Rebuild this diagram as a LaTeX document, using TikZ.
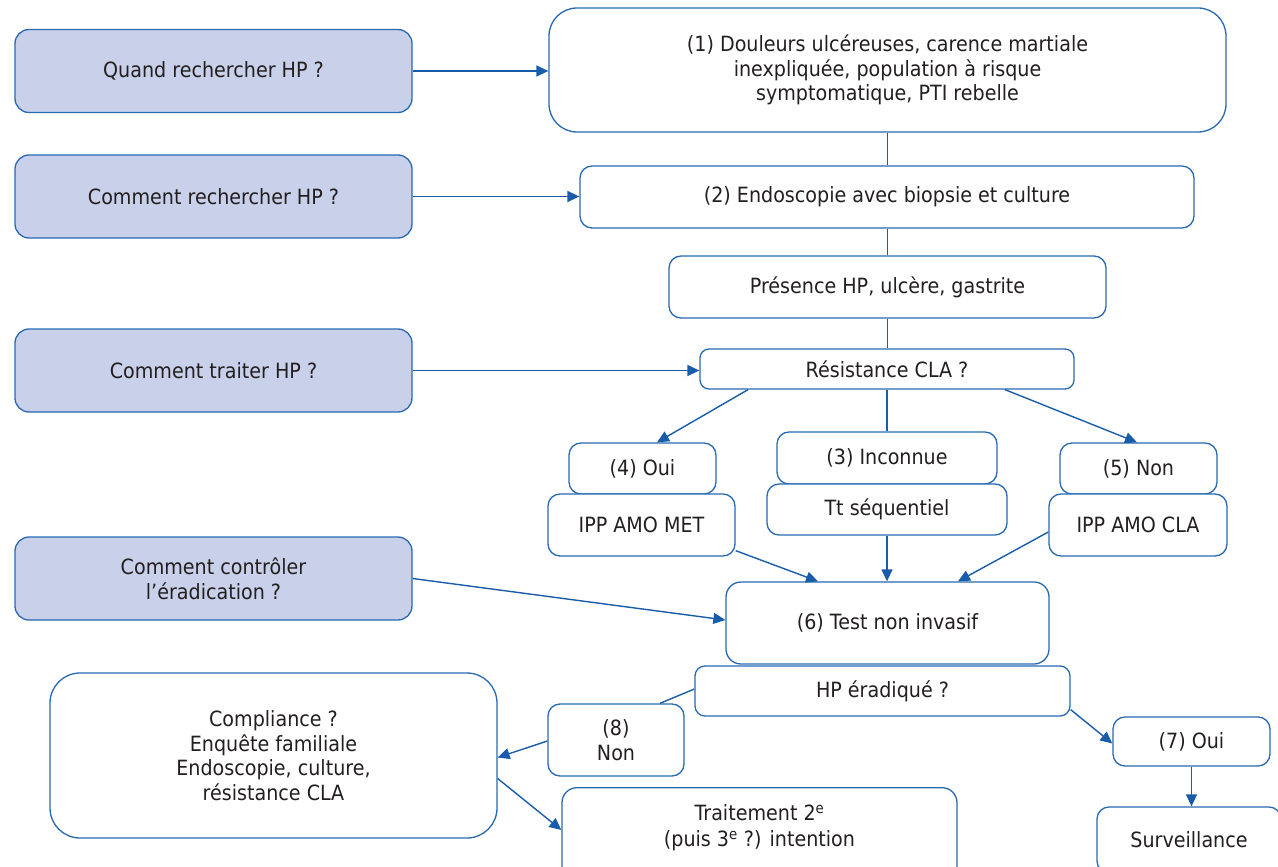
\documentclass[tikz,border=0pt]{standalone}
\usepackage{fontspec}
\setmainfont[FakeStretch=0.91]{DejaVu Sans}
\usetikzlibrary{arrows.meta,calc}
\definecolor{bl}{RGB}{40,105,178}
\definecolor{ar}{RGB}{25,92,170}
\definecolor{qfill}{RGB}{201,208,234}
\definecolor{tx}{RGB}{35,31,32}
\begin{document}
\begin{tikzpicture}[x=1pt,y=-1pt,
  box/.style={draw=bl, line width=1.3pt, rounded corners=12pt, fill=white, text=tx,
    align=center, inner sep=0pt, font=\fontsize{21}{24.5}\selectfont},
  qbox/.style={box, fill=qfill, rounded corners=14pt, minimum width=397pt, minimum height=83pt},
  conn/.style={draw=ar, line width=1.4pt},
  arr/.style={conn, -{Triangle[length=12pt,width=11pt]}}]
\useasboundingbox (0,0) rectangle (1278,867);
\clip (0,0) rectangle (1278,867);
% left question boxes
\node[qbox] (q1) at (213.5,71) {Quand rechercher HP ?};
\node[qbox] (q2) at (213.5,196.5) {Comment rechercher HP ?};
\node[qbox] (q3) at (213.5,370.5) {Comment traiter HP ?};
\node[qbox] (q4) at (213.5,578.5) {Comment contrôler\\l’éradication ?};
% main column
\node[box, rounded corners=28pt, minimum width=677pt, minimum height=124pt] (b1) at (887.5,70)
  {(1) Douleurs ulcéreuses, carence martiale\\inexpliquée, population à risque\\symptomatique, PTI rebelle};
\node[box, minimum width=614pt, minimum height=62pt] (b2) at (887,197) {(2) Endoscopie avec biopsie et culture};
\node[box, minimum width=437pt, minimum height=62pt] (b3) at (887.5,287) {Présence HP, ulcère, gastrite};
\node[box, minimum width=374pt, minimum height=40pt, rounded corners=9pt] (res) at (887,369) {Résistance CLA ?};
% branches
\node[box, minimum width=147pt, minimum height=51pt] (oui4) at (642.5,468.5) {(4) Oui};
\node[box, minimum width=187pt, minimum height=62pt] (met) at (641.5,525) {IPP AMO MET};
\node[box, minimum width=220pt, minimum height=52pt] (inc3) at (887,458) {(3) Inconnue};
\node[box, minimum width=240pt, minimum height=51pt] (seq) at (887,509.5) {Tt séquentiel};
\node[box, minimum width=157pt, minimum height=51pt] (non5) at (1138.5,468.5) {(5) Non};
\node[box, minimum width=178pt, minimum height=62pt] (cla) at (1138,525) {IPP AMO CLA};
% test
\node[box, minimum width=323pt, minimum height=82pt, rounded corners=15pt] (test) at (887.5,623) {(6) Test non invasif};
\node[box, minimum width=375pt, minimum height=50pt, rounded corners=10pt] (erad) at (882.5,691) {HP éradiqué ?};
\node[box, minimum width=136pt, minimum height=72pt] (non8) at (616,740) {(8)\\Non};
\node[box, minimum width=447pt, minimum height=165pt, rounded corners=30pt] (comp) at (273.5,755.5)
  {Compliance ?\\Enquête familiale\\Endoscopie, culture,\\résistance CLA};
\node[box, anchor=north, rounded corners=15pt] (trait) at (759.5,787)
  {\parbox[c][110pt][t]{395pt}{\centering\fontsize{21}{26}\selectfont\vspace*{17pt}Traitement 2\textsuperscript{e}\\(puis 3\textsuperscript{e} ?) intention}};
\node[box, minimum width=157pt, minimum height=49pt] (oui7) at (1191.5,741.5) {(7) Oui};
\node[box, minimum width=184pt, minimum height=66pt] (surv) at (1189,840) {Surveillance};
% connectors from questions
\draw[arr] (q1.east) -- (q1.east -| b1.west);
\draw[arr] (q2.east) -- (q2.east -| b2.west);
\draw[arr] (q3.east) -- (q3.east -| res.west);
\draw[arr] (q4.east) -- ($(test.west)+(0,-3)$);
% main column lines
\draw[conn] (b1.south -| b3.north) -- (b2.north -| b3.north);
\draw[conn] (b2.south -| b3.north) -- (b3.north);
\draw[conn] (b3.south) -- (res.north -| b3.south);
% branches
\draw[arr] (res.south -| 748,0) -- (oui4.north -| 657,0);
\draw[conn] (res.south) -- (inc3.north);
\draw[arr] (res.south -| 1005,0) -- (non5.north -| 1137,0);
\draw[arr] ($(met.south east)+(0,-6)$) -- (test.north -| 818,0);
\draw[arr] (seq.south) -- (test.north -| seq.south);
\draw[arr] ($(cla.west)+(0,7)$) -- (test.north -| 958,0);
% lower part
\draw[conn] ($(erad.west)+(0,-2)$) -- (non8.north -| 660,0);
\draw[arr] ($(non8.west)+(0,1)$) -- ($(comp.east)+(0,2)$);
\draw[arr] ($(comp.east)+(0,23)$) -- (trait.west |- 0,830);
\draw[arr] ($(erad.south east)+(0,-7)$) -- ($(oui7.west)+(0,2)$);
\draw[arr] (oui7.south) -- (surv.north -| oui7.south);
\end{tikzpicture}
\end{document}
